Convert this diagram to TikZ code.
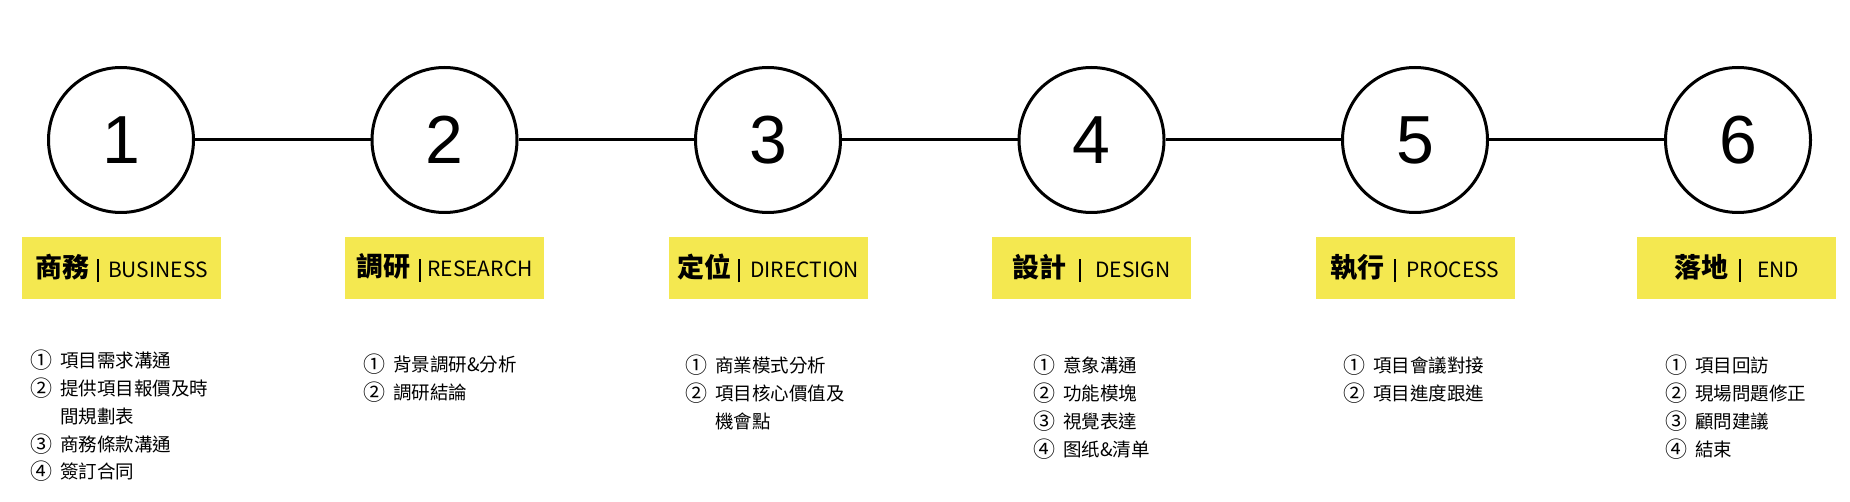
\documentclass[tikz,border=0pt]{standalone}
\usepackage{fontspec}
\usepackage{tikz}
\newfontfamily\cjk{Noto Sans CJK TC}
\newfontfamily\digits{Liberation Sans}
\definecolor{stageyellow}{RGB}{244,232,80}
\newcommand\vbar{\rule[-5pt]{2pt}{23pt}}
\newcommand\stagename[4]{{\bfseries\fontsize{27}{30}\selectfont #1}\hspace{#2}\vbar\hspace{#3}{\fontsize{21}{24}\selectfont #4}}
\newcommand\itm[1]{\makebox[30pt][l]{\raisebox{-1pt}{\fontsize{22}{27.7}\selectfont #1}}}
\tikzset{
	num/.style={circle, draw, line width=3pt, minimum size=145pt, inner sep=0pt, font=\digits\fontsize{68}{70}\selectfont},
	stage/.style={fill=stageyellow, minimum width=199pt, minimum height=62pt, inner sep=0pt, font=\cjk},
	todo/.style={anchor=base west, inner sep=0pt, font=\cjk\fontsize{18.5}{27.7}\selectfont},
	link/.style={line width=3pt}
}

\begin{document}
\begin{tikzpicture}[x=1pt, y=-1pt]
		%%%%% START %%%%%
		\useasboundingbox (0, 0) rectangle (1850, 502);
		
		\node[num] (c1) at (121, 140) {1};
		\node[num] (c2) at (444.5, 140) {2};
		\node[num] (c3) at (768, 140) {3};
		\node[num] (c4) at (1091.5, 140) {4};
		\node[num] (c5) at (1415, 140) {5};
		\node[num] (c6) at (1738, 140) {6};
		
		\draw[link] (c1) -- (c2);
		\draw[link] (c2) -- (c3);
		\draw[link] (c3) -- (c4);
		\draw[link] (c4) -- (c5);
		\draw[link] (c5) -- (c6);
		
		\node[stage] (b1) at (121.5, 268) {\stagename{商務}{8pt}{9pt}{BUSINESS}};
		\node[stage] (b2) at (444.5, 268) {\stagename{調研}{9pt}{6pt}{RESEARCH}};
		\node[stage] (b3) at (768, 268) {\stagename{定位}{7pt}{10pt}{DIRECTION}};
		\node[stage] (b4) at (1091.5, 268) {\stagename{設計}{13pt}{14pt}{DESIGN}};
		\node[stage] (b5) at (1415, 268) {\stagename{執行}{9pt}{11pt}{PROCESS}};
		\node[stage] (b6) at (1736.5, 268) {\stagename{落地}{11pt}{16pt}{END}};
		
		\node[todo] (l1) at (30, 368) {\begin{tabular}[t]{@{}l@{}}
			\itm{①}項目需求溝通\\ \itm{②}提供項目報價及時\\ \itm{}間規劃表\\ \itm{③}商務條款溝通\\ \itm{④}簽訂合同
		\end{tabular}};
		\node[todo] (l2) at (363, 372) {\begin{tabular}[t]{@{}l@{}}
			\itm{①}背景調研\&分析\\ \itm{②}調研結論
		\end{tabular}};
		\node[todo] (l3) at (685, 373) {\begin{tabular}[t]{@{}l@{}}
			\itm{①}商業模式分析\\ \itm{②}項目核心價值及\\ \itm{}機會點
		\end{tabular}};
		\node[todo] (l4) at (1033, 373) {\begin{tabular}[t]{@{}l@{}}
			\itm{①}意象溝通\\ \itm{②}功能模塊\\ \itm{③}視覺表達\\ \itm{④}图纸\&清单
		\end{tabular}};
		\node[todo] (l5) at (1343, 373) {\begin{tabular}[t]{@{}l@{}}
			\itm{①}項目會議對接\\ \itm{②}項目進度跟進
		\end{tabular}};
		\node[todo] (l6) at (1665, 373) {\begin{tabular}[t]{@{}l@{}}
			\itm{①}項目回訪\\ \itm{②}現場問題修正\\ \itm{③}顧問建議\\ \itm{④}結束
		\end{tabular}};
		
		%%%%% END %%%%%
	\end{tikzpicture}
\end{document}
